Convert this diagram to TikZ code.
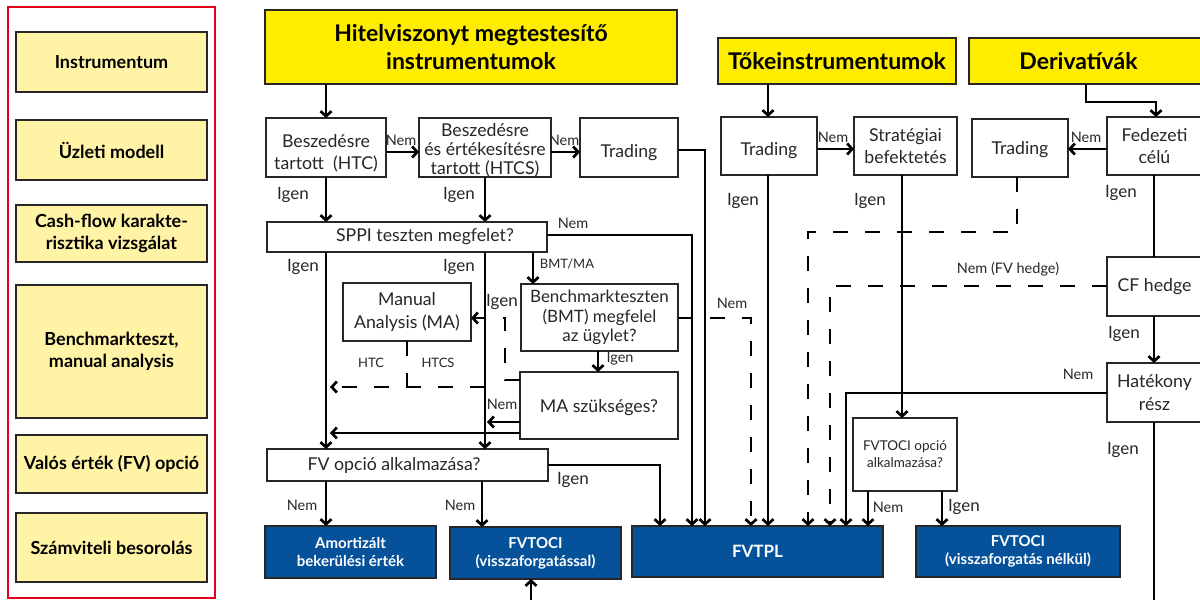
\documentclass[tikz,border=0pt]{standalone}
\usepackage{fontspec}
\setmainfont{Lato}
\usetikzlibrary{arrows.meta,calc}
\definecolor{hdryel}{HTML}{FFED00}
\definecolor{panyel}{HTML}{FFF3A5}
\definecolor{ingblue}{HTML}{06529A}
\definecolor{bord}{HTML}{2A2526}
\definecolor{framered}{HTML}{E3001B}
\newcommand\lowerby[2]{\raisebox{-#1}[\height][\depth]{#2}}
\begin{document}
\begin{tikzpicture}[x=1pt,y=-1pt,
  every node/.style={inner sep=0pt, outer sep=0pt},
  box/.style={draw=bord, line width=2.8pt, fill=white, align=center, text=bord, font=\fontsize{17.7}{22.5}\selectfont},
  hdr/.style={draw=bord, line width=2.8pt, fill=hdryel, align=center, font=\bfseries\fontsize{23}{28}\selectfont},
  hdrtxt/.style={font=\bfseries\fontsize{23}{28}\selectfont},
  pan/.style={draw=bord, line width=2.8pt, fill=panyel, align=center, font=\bfseries\fontsize{18}{22}\selectfont, minimum width=191pt},
  res/.style={draw=bord, line width=2.8pt, fill=ingblue, text=white, align=center, font=\bfseries\fontsize{15}{18}\selectfont},
  btxt/.style={text=bord, align=center, font=\fontsize{17.7}{22.5}\selectfont},
  conn/.style={line width=2.7pt, draw=black},
  arr/.style={conn, -{Straight Barb[length=5pt,width=11pt]}},
  dsh/.style={dash pattern=on 15pt off 17pt},
  lbl/.style={text=bord, font=\fontsize{17}{20}\selectfont},
  slbl/.style={text=bord, font=\fontsize{14.5}{17}\selectfont},
  tlbl/.style={text=bord, font=\fontsize{13}{16}\selectfont},
]
\useasboundingbox (0,0) rectangle (1200,600);
\clip (0,0) rectangle (1200,600);

% left panel
\node[draw=framered, line width=2pt, minimum width=207pt, minimum height=591pt] (frm) at (111.5,302.5) {};
\node[pan, minimum height=60pt] (p1) at (111.5,62) {Instrumentum};
\node[pan, minimum height=60pt] (p2) at (111.5,150) {Üzleti modell};
\node[pan, minimum height=57pt] (p3) at (111.5,233.5) {Cash-flow karakte-\\risztika vizsgálat};
\node[pan, minimum height=133pt] (p4) at (111.5,351.5) {Benchmarkteszt,\\manual analysis};
\node[pan, minimum height=58pt] (p5) at (111.5,464) {Valós érték (FV) opció};
\node[pan, minimum height=69pt] (p6) at (111.5,547.5) {Számviteli besorolás};

% headers
\node[hdr, minimum width=412pt, minimum height=74pt] (hitel) at (471,47) {Hitelviszonyt megtestesítő\\instrumentumok};
\node[hdr, minimum width=238pt, minimum height=46pt] (toke) at (837,61) {Tőkeinstrumentumok};
\node[hdr, minimum width=241pt, minimum height=46pt, label={[hdrtxt, xshift=-11pt]center:Derivatívák}] (deriv) at (1089.5,61) {};

% row 2
\node[box, minimum width=120pt, minimum height=59pt, label={[btxt, yshift=-6pt]center:Beszedésre\\tartott\ \ (HTC)}] (htc) at (326,147.5) {};
\node[box, minimum width=132pt, minimum height=59pt, label={[btxt, font=\fontsize{17.7}{19}\selectfont, yshift=-3pt]center:Beszedésre\\és értékesítésre\\tartott (HTCS)}] (htcs) at (485,147.5) {};
\node[box, minimum width=98pt, minimum height=59pt] (trad1) at (629,147.5) {\lowerby{5pt}{Trading}};
\node[box, minimum width=96pt, minimum height=58pt] (trad2) at (769,146) {\lowerby{5pt}{Trading}};
\node[box, minimum width=103pt, minimum height=58pt] (strat) at (905.5,146) {Stratégiai\\befektetés};
\node[box, minimum width=96pt, minimum height=58pt] (trad3) at (1020,148) {\lowerby{2pt}{Trading}};
\node[box, minimum width=95pt, minimum height=58pt] (fed) at (1154.5,146) {Fedezeti\\célú};

% middle
\node[box, minimum width=280pt, minimum height=30pt, label={[btxt, xshift=18pt]center:SPPI teszten megfelet?}] (sppi) at (407,237) {};
\node[box, minimum width=128pt, minimum height=58pt] (manual) at (407,312) {Manual\\Analysis (MA)};
\node[box, minimum width=157pt, minimum height=67pt, font=\fontsize{17}{19.5}\selectfont] (bmt) at (599.5,317.5) {Benchmarkteszten\\(BMT) megfelel\\az ügylet?};
\node[box, minimum width=158pt, minimum height=67pt] (masz) at (599,405.5) {\lowerby{2pt}{MA szükséges?}};
\node[box, minimum width=281pt, minimum height=32pt, label={[btxt, xshift=-13.5pt]center:FV opció alkalmazása?}] (fvopt) at (407.5,465) {};
\node[box, minimum width=104pt, minimum height=73pt, font=\fontsize{13.5}{17}\selectfont] (fvoo) at (905,454.5) {FVTOCI opció\\alkalmazása?};
\node[box, minimum width=95pt, minimum height=59pt] (cfh) at (1154.5,286.5) {CF hedge};
\node[box, minimum width=95pt, minimum height=59pt] (hat) at (1154.5,392.5) {Hatékony\\rész};

% results
\node[res, minimum width=171pt, minimum height=52pt] (amort) at (350.5,552) {Amortizált\\bekerülési érték};
\node[res, minimum width=171pt, minimum height=52pt] (fvoci1) at (535.5,553) {FVTOCI\\(visszaforgatással)};
\node[res, minimum width=251pt, minimum height=51pt, font=\bfseries\fontsize{17}{18}\selectfont] (fvtpl) at (757.5,551.5) {FVTPL};
\node[res, minimum width=204pt, minimum height=51pt] (fvoci2) at (1018,551.5) {FVTOCI\\(visszaforgatás nélkül)};

\coordinate (in1) at (531,603);
\coordinate (out1) at (1154,603);

% connectors
\draw[arr] (hitel.south -| htc) -- (htc.north);
\draw[arr] (htc.east |- 0,152) -- (htcs.west |- 0,152);
\draw[arr] (htcs.east |- 0,152) -- (trad1.west |- 0,152);
\draw[arr] (trad1.east |- 0,150) -| (fvtpl.north -| 705,0);
\draw[arr] (htc.south) -- (sppi.north -| htc.south);
\draw[arr] (htcs.south) -- (sppi.north -| htcs.south);
\draw[arr] (sppi.east |- 0,235) -| (fvtpl.north -| 692,0);
\draw[arr] (sppi.south -| htc) -- (fvopt.north -| htc);
\draw[arr] (sppi.south -| htcs) -- (fvopt.north -| htcs);
\draw[arr] (sppi.south -| 533,0) -- (bmt.north -| 533,0);
\draw[arr] (bmt.south -| 598,0) -- (masz.north -| 598,0);
\draw[arr,dsh] (masz.west |- 0,380) -| (505,318) -- (manual.east |- 0,318);
\draw[conn,dsh] (manual.south) -- (manual.south |- 0,387);
\draw[arr,dsh] (htcs |- 0,387) -- ($(htc |- 0,387)+(4,0)$);
\draw[arr] (masz.west |- 0,422) -- ($(htcs |- 0,422)+(2,0)$);
\draw[arr] (masz.west |- 0,433) -- ($(htc |- 0,433)+(4,0)$);
\draw[arr] (fvopt.east |- 0,465) -| (fvtpl.north -| 660,0);
\draw[arr] (fvopt.south -| htc) -- (amort.north -| htc);
\draw[arr] (fvopt.south -| 482,0) -- (fvoci1.north -| 482,0);
\draw[arr] (in1) -- (fvoci1.south -| in1);
\draw[arr,dsh] (bmt.east |- 0,318) -| (fvtpl.north -| 751,0);
\draw[arr] (toke.south -| 768,0) -- (trad2.north -| 768,0);
\draw[arr] (trad2.east |- 0,149) -- (strat.west |- 0,149);
\draw[arr] (trad2.south -| 768,0) -- (fvtpl.north -| 768,0);
\draw[arr] (strat.south -| 902,0) -- (fvoo.north -| 902,0);
\draw[arr] (deriv.south -| 1086,0) |- (1156,102) -- (fed.north -| 1156,0);
\draw[arr] (fed.west |- 0,149) -- (trad3.east |- 0,149);
\draw[arr,dsh] (trad3.south -| 1017,0) |- (808,232) -- (fvtpl.north -| 808,0);
\draw[conn] (fed.south -| 1154,0) -- (cfh.north -| 1154,0);
\draw[arr,dsh] (cfh.west |- 0,286) -| (fvtpl.north -| 830,0);
\draw[arr] (cfh.south -| 1154,0) -- (hat.north -| 1154,0);
\draw[arr] (hat.west |- 0,393) -| (fvtpl.north -| 846,0);
\draw[conn] (hat.south -| out1) -- (out1);
\draw[arr] (fvoo.south -| 868,0) -- (fvtpl.north -| 868,0);
\draw[arr] (fvoo.south -| 942,0) -- (fvoci2.north -| 942,0);

% labels
\node[slbl] at (401,140) {Nem};
\node[slbl] at (564,140) {Nem};
\node[lbl] at (293,195) {Igen};
\node[lbl] at (459,195) {Igen};
\node[slbl] at (573,223) {Nem};
\node[lbl] at (303,267) {Igen};
\node[lbl] at (459,267) {Igen};
\node[tlbl] at (567,264) {BMT/MA};
\node[lbl] at (502,302) {Igen};
\node[slbl] at (620,359) {Igen};
\node[tlbl] at (371,363) {HTC};
\node[tlbl] at (438,363) {HTCS};
\node[slbl] at (502,404) {Nem};
\node[slbl] at (732,303) {Nem};
\node[lbl] at (573,480) {Igen};
\node[slbl] at (302,505) {Nem};
\node[slbl] at (460,505) {Nem};
\node[slbl] at (833,137) {Nem};
\node[lbl] at (743,201) {Igen};
\node[lbl] at (870,201) {Igen};
\node[slbl] at (1086,137) {Nem};
\node[lbl] at (1121,193) {Igen};
\node[slbl] at (1008,269) {Nem (FV hedge)};
\node[lbl] at (1124,334) {Igen};
\node[slbl] at (1078,374) {Nem};
\node[lbl] at (1123,450) {Igen};
\node[slbl] at (888,507) {Nem};
\node[lbl] at (964,507) {Igen};
\end{tikzpicture}
\end{document}
